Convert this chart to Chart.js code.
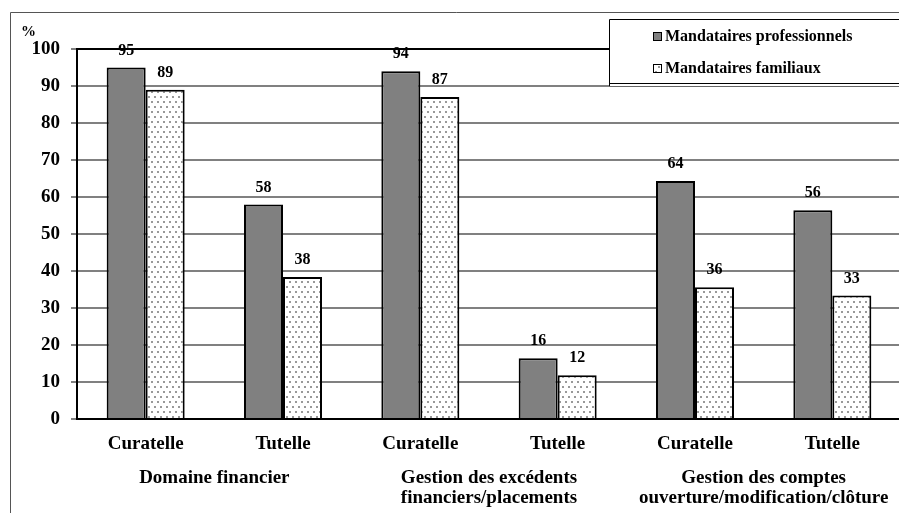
<!DOCTYPE html>
<html><head><meta charset="utf-8">
<script src="https://cdn.jsdelivr.net/npm/chart.js@4.4.0/dist/chart.umd.min.js"></script>
<style>html,body{margin:0;padding:0;background:#fff;overflow:hidden}canvas{display:block}</style>
</head><body>
<canvas id="c" width="902" height="513"></canvas>
<script>
const categories = ['Curatelle','Tutelle','Curatelle','Tutelle','Curatelle','Tutelle'];
const groupLabels = [['Domaine financier'],['Gestion des excédents','financiers/placements'],['Gestion des comptes','ouverture/modification/clôture']];
const seriesNames = ['Mandataires professionnels','Mandataires familiaux'];
const professionnels = [95, 58, 94, 16.4, 64.3, 56.4];
const familiaux = [89, 38.4, 87, 11.8, 35.6, 33.4];
const yMin = 0, yMax = 100, yStep = 10;
const unitLabel = '%';

const FONT = '"Liberation Serif", "Times New Roman", serif';

function dotPattern(){
  const c = document.createElement('canvas'); c.width = 6; c.height = 10;
  const x = c.getContext('2d');
  x.fillStyle = '#fff'; x.fillRect(0,0,6,10);
  x.fillStyle = '#999';
  x.fillRect(1,1,2,2); x.fillRect(4,6,2,2);
  return x.createPattern(c,'repeat');
}
const dots = dotPattern();
const darkFill = '#808080';

const decor = {
  id:'decor',
  afterDraw(chart){
    const ctx = chart.ctx, xs = chart.scales.x, area = chart.chartArea;
    ctx.save();
    // data labels
    ctx.fillStyle = '#000';
    ctx.font = 'bold 16px ' + FONT;
    ctx.textAlign = 'center'; ctx.textBaseline = 'middle';
    chart.data.datasets.forEach((ds, i) => {
      chart.getDatasetMeta(i).data.forEach((el, j) => {
        ctx.fillText(String(Math.round(ds.data[j])), el.x, el.y - 17);
      });
    });
    // group labels
    ctx.font = 'bold 19px ' + FONT;
    groupLabels.forEach((lines, g) => {
      const cx = (xs.getPixelForValue(2*g) + xs.getPixelForValue(2*g+1)) / 2;
      lines.forEach((t, k) => ctx.fillText(t, cx, area.bottom + 59 + k*20));
    });
    // unit label
    ctx.font = 'bold 15px ' + FONT;
    ctx.textAlign = 'left';
    ctx.fillText(unitLabel, 21, 32);
    // outer frame
    ctx.strokeStyle = '#555'; ctx.lineWidth = 1;
    ctx.beginPath(); ctx.moveTo(10.5, 520); ctx.lineTo(10.5, 12.5); ctx.lineTo(910, 12.5); ctx.stroke();
    // legend box
    const lx = 609, ly = 19, lb = 84;
    ctx.fillStyle = '#fff'; ctx.fillRect(lx, ly, 300, lb - ly + 3);
    ctx.strokeStyle = '#000'; ctx.lineWidth = 1;
    ctx.beginPath(); ctx.moveTo(lx + 0.5, lb + 2.5); ctx.lineTo(lx + 0.5, ly + 0.5); ctx.lineTo(910, ly + 0.5); ctx.stroke();
    ctx.beginPath(); ctx.moveTo(lx, lb - 0.5); ctx.lineTo(910, lb - 0.5); ctx.stroke();
    ctx.strokeStyle = '#666';
    ctx.beginPath(); ctx.moveTo(lx, lb + 2.5); ctx.lineTo(910, lb + 2.5); ctx.stroke();
    ctx.font = 'bold 16px ' + FONT;
    ctx.textBaseline = 'middle';
    const fills = [darkFill, dots];
    seriesNames.forEach((n, i) => {
      const y = 36 + i*32;
      ctx.fillStyle = fills[i]; ctx.fillRect(653, y - 4, 9, 9);
      ctx.strokeStyle = '#000'; ctx.strokeRect(653.5, y - 3.5, 8, 8);
      ctx.fillStyle = '#000'; ctx.fillText(n, 665, y + 1);
    });
    ctx.restore();
  }
};

new Chart(document.getElementById('c'), {
  type:'bar',
  data:{
    labels: categories,
    datasets:[
      {label: seriesNames[0], data: professionnels, backgroundColor: darkFill, borderColor:'#000', borderWidth:2},
      {label: seriesNames[1], data: familiaux, backgroundColor: dots, borderColor:'#000', borderWidth:2}
    ]
  },
  options:{
    responsive:false, animation:false,
    devicePixelRatio:1,
    layout:{padding:{top:49, left:0, right:1, bottom:0}},
    datasets:{bar:{categoryPercentage:0.568, barPercentage:1}},
    plugins:{legend:{display:false}, tooltip:{enabled:false}},
    scales:{
      x:{
        grid:{display:false},
        border:{display:true, color:'#000', width:2},
        ticks:{color:'#000', font:{family:FONT, size:19, weight:'bold'}, padding:6, maxRotation:0, autoSkip:false},
        afterFit(s){ s.height = 94; }
      },
      y:{
        min:yMin, max:yMax,
        grid:{color:c => c.tick && c.tick.value === yMax ? '#000' : '#808080', lineWidth:2, tickLength:6, tickColor:'#808080'},
        border:{display:true, color:'#000', width:2},
        ticks:{stepSize:yStep, color:'#000', font:{family:FONT, size:19, weight:'bold'}, padding:11},
        afterFit(s){ s.width = 77; }
      }
    }
  },
  plugins:[decor]
});
</script>
</body></html>
